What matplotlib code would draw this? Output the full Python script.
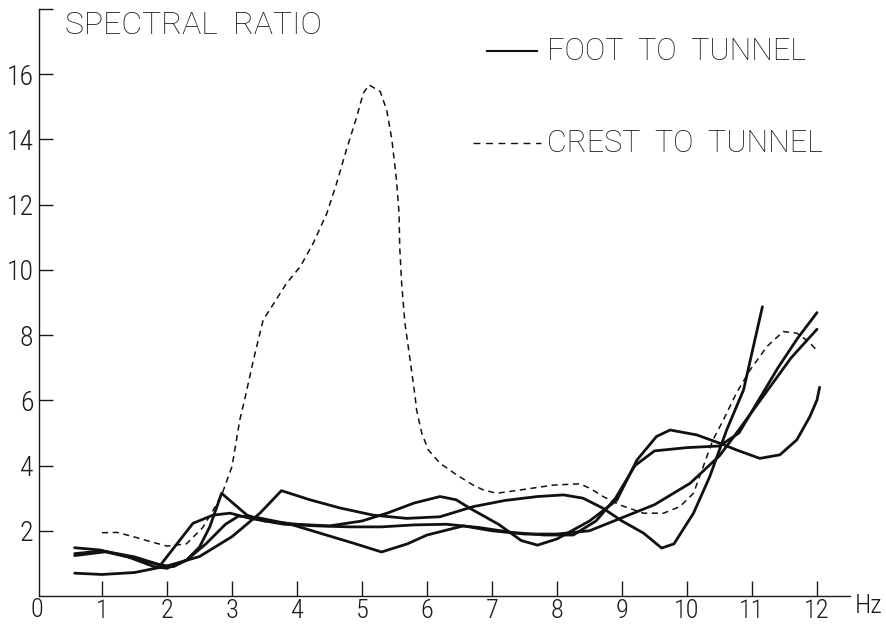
import matplotlib
matplotlib.use("Agg")
import matplotlib.pyplot as plt
from matplotlib.lines import Line2D

plt.rcParams['font.family'] = ['Roboto Condensed', 'Roboto', 'DejaVu Sans']
plt.rcParams['font.weight'] = 'light'
WIDE = ['Roboto', 'DejaVu Sans']

# Frequency (Hz) / spectral ratio
crest_f = [1.0, 1.23, 1.48, 1.74, 2.0, 2.3, 2.55, 2.74, 2.86, 3.0, 3.12, 3.2, 3.33,
           3.48, 3.61, 3.84, 4.05, 4.25, 4.46, 4.61, 4.76, 4.92, 5.02, 5.11, 5.28,
           5.38, 5.46, 5.53, 5.57, 5.58, 5.61, 5.66, 5.74, 5.82, 5.84, 5.92, 6.02,
           6.2, 6.46, 6.71, 6.87, 7.07, 7.43, 7.94, 8.35, 8.51, 8.71, 8.97, 9.33,
           9.64, 9.89, 10.1, 10.25, 10.4, 10.56, 10.76, 10.97, 11.23, 11.48, 11.69,
           11.87, 12.02]
crest_r = [1.94, 1.95, 1.82, 1.67, 1.53, 1.6, 2.1, 2.73, 3.2, 3.97, 5.4, 6.07, 7.24,
           8.47, 8.87, 9.59, 10.1, 10.82, 11.74, 12.66, 13.68, 14.7, 15.42, 15.67, 15.47,
           14.9, 13.99, 12.76, 11.74, 10.71, 9.59, 8.37, 7.24, 6.07, 5.7, 4.99, 4.48,
           4.07, 3.71, 3.4, 3.25, 3.15, 3.25, 3.4, 3.44, 3.3, 3.05, 2.79, 2.54,
           2.54, 2.74, 3.15, 3.97, 4.79, 5.4, 6.22, 6.93, 7.65, 8.11, 8.06,
           7.8, 7.49]

foot_a_f = [0.58, 1.0, 1.5, 2.0, 2.5, 3.0, 3.43, 3.76, 4.2, 4.66, 5.17, 5.69, 6.2,
            6.71, 7.2, 7.7, 8.1, 8.4, 8.7, 9.0, 9.33, 9.61, 9.8, 10.1, 10.35,
            10.61, 10.87, 11.16]
foot_a_r = [0.70, 0.66, 0.72, 0.92, 1.21, 1.82, 2.54, 3.23, 2.95, 2.7, 2.48, 2.38, 2.43,
            2.74, 2.93, 3.05, 3.1, 3.0, 2.7, 2.3, 1.93, 1.47, 1.6, 2.54, 3.66,
            5.09, 6.32, 8.87]

foot_b_f = [0.58, 0.97, 1.48, 1.9, 2.1, 2.3, 2.5, 2.66, 2.84, 3.02, 3.23, 3.5, 4.0,
            4.5, 5.0, 5.4, 5.8, 6.2, 6.45, 6.66, 7.1, 7.45, 7.7, 8.0, 8.5, 8.92,
            9.23, 9.53, 9.74, 10.15, 10.51, 10.76, 11.12, 11.43, 11.69, 11.89, 12.0, 12.04]
foot_b_r = [1.48, 1.41, 1.16, 0.95, 0.9, 1.1, 1.5, 2.13, 3.15, 2.84, 2.48, 2.3, 2.2,
            2.15, 2.3, 2.55, 2.85, 3.05, 2.95, 2.69, 2.2, 1.7, 1.56, 1.75, 2.3, 2.94,
            4.17, 4.89, 5.09, 4.94, 4.68, 4.48, 4.22, 4.33, 4.79, 5.5, 6.01, 6.4]

foot_c_f = [0.58, 1.07, 1.5, 1.9, 2.2, 2.4, 2.71, 2.97, 3.28, 3.8, 4.3, 4.8, 5.3,
            5.8, 6.3, 6.8, 7.3, 7.8, 8.25, 8.6, 8.9, 9.2, 9.5, 10.0, 10.5, 10.8,
            11.1, 11.4, 11.7, 12.0]
foot_c_r = [1.24, 1.36, 1.2, 0.95, 1.72, 2.23, 2.48, 2.54, 2.38, 2.2, 2.15, 2.12, 2.12,
            2.18, 2.2, 2.1, 1.95, 1.87, 1.87, 2.3, 3.0, 4.0, 4.45, 4.55, 4.6, 5.0,
            6.0, 7.0, 7.9, 8.69]

foot_d_f = [0.58, 1.0, 1.4, 1.8, 2.0, 2.3, 2.6, 2.9, 3.1, 3.4, 3.9, 4.4, 4.9, 5.3,
            5.7, 6.0, 6.56, 7.0, 7.5, 8.0, 8.5, 9.0, 9.5, 10.05, 10.5, 10.8, 11.2,
            11.6, 12.0]
foot_d_r = [1.3, 1.38, 1.2, 0.9, 0.85, 1.1, 1.6, 2.2, 2.45, 2.4, 2.2, 1.9, 1.6, 1.35,
            1.6, 1.87, 2.15, 2.0, 1.9, 1.9, 2.0, 2.4, 2.8, 3.46, 4.3, 5.1, 6.2,
            7.3, 8.18]

x_ticks = list(range(1, 13))
y_ticks = [2, 4, 6, 8, 10, 12, 14, 16]

W, H = 887, 624
INK = '#1a1a1a'
fig = plt.figure(figsize=(W / 100, H / 100), dpi=100)
ax = fig.add_axes([39 / W, (H - 596) / H, (850 - 39) / W, (596 - 9) / H])

solid_kw = dict(color='#111111', lw=2.0, solid_capstyle='round', solid_joinstyle='round')
for f, r in [(foot_a_f, foot_a_r), (foot_b_f, foot_b_r),
             (foot_c_f, foot_c_r), (foot_d_f, foot_d_r)]:
    ax.plot(f, r, **solid_kw)
ax.plot(crest_f, crest_r, color='#111111', lw=1.1, dashes=(4, 3))

ax.set_xlim(2 / 65, (850 - 37) / 65)
ax.set_ylim(0, 18)

for s in ('top', 'right'):
    ax.spines[s].set_visible(False)
for s in ('left', 'bottom'):
    ax.spines[s].set_linewidth(1.0)
    ax.spines[s].set_color(INK)

TICK_FS = 19
ax.set_xticks(x_ticks)
ax.set_xticklabels([str(v) for v in x_ticks])
ax.set_yticks(y_ticks + [18])
ax.set_yticklabels([str(v) for v in y_ticks] + [''])
ax.tick_params(axis='x', direction='in', length=11, width=1.0, pad=2,
               labelsize=TICK_FS, colors=INK)
ax.tick_params(axis='y', direction='in', length=10, width=1.0, pad=4,
               labelsize=20, colors=INK)
ax.text(0, -0.004, '0', transform=ax.get_xaxis_transform(), ha='center', va='top',
        fontsize=TICK_FS, color=INK)

fig.text(869 / W, 1 - 606 / H, 'Hz', ha='center', va='center', fontsize=TICK_FS, color=INK)
fig.text(65 / W, 1 - 25 / H, 'SPECTRAL  RATIO', ha='left', va='center',
         fontsize=23, color=INK, family=WIDE)

# key
fig.add_artist(Line2D([487 / W, 537 / W], [1 - 51 / H, 1 - 51 / H], color='#111111', lw=1.5))
fig.add_artist(Line2D([473 / W, 541 / W], [1 - 143 / H, 1 - 143 / H], color='#111111',
                      lw=1.0, dashes=(5, 4)))
fig.text(547 / W, 1 - 51 / H, 'FOOT  TO  TUNNEL', ha='left', va='center',
         fontsize=22, color=INK, family=WIDE)
fig.text(547 / W, 1 - 143 / H, 'CREST  TO  TUNNEL', ha='left', va='center',
         fontsize=22, color=INK, family=WIDE)

fig.savefig('out.png', dpi=100)
